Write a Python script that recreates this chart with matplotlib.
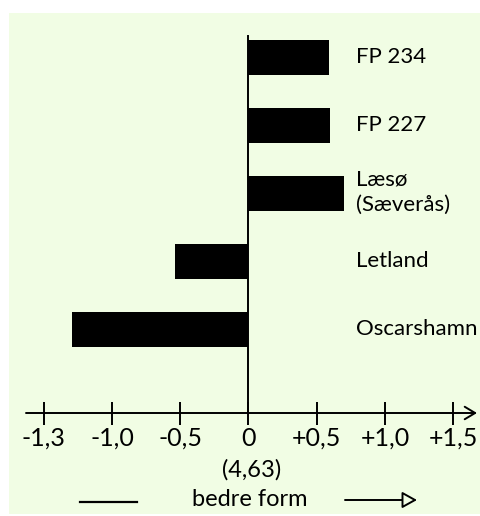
import numpy as np
import matplotlib
matplotlib.use("Agg")
import matplotlib.pyplot as plt
from matplotlib.patches import Rectangle

# data
sites = ["FP 234", "FP 227", "Læsø\n(Sæverås)", "Letland", "Oscarshamn"]
values = [0.59, 0.60, 0.70, -0.54, -1.29]
tick_pos = [-1.5, -1.0, -0.5, 0.0, 0.5, 1.0, 1.5]
tick_labels = ["-1,3", "-1,0", "-0,5", "0", "+0,5", "+1,0", "+1,5"]

W, H = 481, 516
bg = "#f1fde4"
plt.rcParams["font.family"] = ["Lato", "DejaVu Sans"]

fig = plt.figure(figsize=(W / 100, H / 100), dpi=100, facecolor="white")

ax = fig.add_axes([0, 0, 1, 1])
ax.set_facecolor("none")
x0 = 248.5
scale = 136.5  # px per unit
ax.set_xlim(-x0 / scale, (W - x0) / scale)
ax.set_ylim(H, 0)  # y in pixels from top
ax.axis("off")

# background panel
ax.add_patch(Rectangle((9 / W, 2 / H), 1 - 9 / W, (514 - 13) / H,
                       transform=ax.transAxes, facecolor=bg,
                       edgecolor="none", zorder=0))

# bars
ypos = 57 + 68 * np.arange(len(sites))
ax.barh(ypos, values, height=35, color="black", zorder=3)

# site labels
lx = (356 - x0) / scale
for y, s in zip(ypos, sites):
    if "\n" in s:
        a, b = s.split("\n")
        ax.text(lx, y - 13, a, fontsize=16, va="center", ha="left")
        ax.text(lx, y + 12, b, fontsize=16, va="center", ha="left")
    else:
        ax.text(lx, y, s, fontsize=16, va="center", ha="left")

# zero line
ax.plot([0, 0], [36, 413], color="black", lw=1.4, zorder=4)

# number line with arrow
axis_y = 413
ax.annotate("", xy=(1.674, axis_y), xytext=(-1.63, axis_y),
            arrowprops=dict(arrowstyle="->,head_length=0.75,head_width=0.45",
                            lw=1.4, color="black", mutation_scale=10,
                            shrinkA=0, shrinkB=0))
ax.vlines(tick_pos, 402, 425, color="black", lw=1.4)
for t, lab in zip(tick_pos, tick_labels):
    ax.text(t, 438, lab, fontsize=18, ha="center", va="center")

ax.text(0.02, 470, "(4,63)", fontsize=17, ha="center", va="center")

# bedre form
ax.plot([(80 - x0) / scale, (137 - x0) / scale], [502, 502], color="black", lw=1.6)
ax.text((250 - x0) / scale, 499, "bedre form", fontsize=17, ha="center", va="center")
ax.annotate("", xy=((417 - x0) / scale, 500), xytext=((345 - x0) / scale, 500),
            arrowprops=dict(arrowstyle="-|>,head_length=0.9,head_width=0.5",
                            lw=1.4, ec="black", fc=bg,
                            mutation_scale=10, shrinkA=0, shrinkB=0))

fig.savefig("out.png", dpi=100, facecolor="white")
